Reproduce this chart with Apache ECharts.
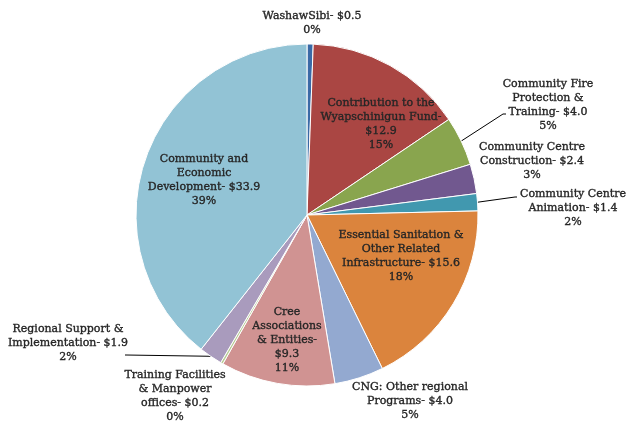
<!DOCTYPE html>
<html>
<head>
<meta charset="utf-8">
<script src="https://cdn.jsdelivr.net/npm/echarts@6/dist/echarts.min.js"></script>
<style>html,body{margin:0;padding:0;background:#fff}#c{width:628px;height:423px}</style>
</head>
<body>
<div id="c"></div>
<script>
// Data (clockwise from 12 o'clock)
const categories = [
  'WashawSibi',
  'Contribution to the\nWyapschinigun Fund',
  'Community Fire\nProtection &\nTraining',
  'Community Centre\nConstruction',
  'Community Centre\nAnimation',
  'Essential Sanitation &\nOther Related\nInfrastructure',
  'CNG: Other regional\nPrograms',
  'Cree\nAssociations\n& Entities',
  'Training Facilities\n& Manpower\noffices',
  'Regional Support &\nImplementation',
  'Community and\nEconomic\nDevelopment'
];
const values = [0.5, 12.9, 4.0, 2.4, 1.4, 15.6, 4.0, 9.3, 0.2, 1.9, 33.9];
const percentLabels = [0, 15, 5, 3, 2, 18, 5, 11, 0, 2, 39];
const separators = ['- ', '-\n', '- ', '- ', '- ', '- ', '- ', '-\n', '- ', '- ', '- '];

// Styles
const colors = ['#3a6aa6', '#aa4643', '#89a54e', '#71588f', '#4198af', '#db843d',
                '#93a9d0', '#d09392', '#b9cd96', '#a99bbd', '#92c3d5'];
const labelPos = [[312, 23], [381, 124], [548, 105], [532, 161], [573, 208], [401, 256],
                  [410, 401], [287, 340], [175, 396], [68, 343], [204, 180]];
const leaderEnds = {2: [[503, 114], [506, 114]], 4: [[515, 197], [517, 197]], 9: [[126, 355], [125, 355]]};

const chart = echarts.init(document.getElementById('c'), null, {renderer: 'canvas'});
chart.setOption({
  animation: false,
  backgroundColor: '#fff',
  series: [{
    type: 'pie',
    center: [307, 215],
    radius: 171,
    startAngle: 90,
    clockwise: true,
    avoidLabelOverlap: false,
    itemStyle: {borderColor: '#fff', borderWidth: 1},
    label: {
      show: true,
      position: 'outside',
      fontFamily: 'DejaVu Serif',
      fontSize: 11,
      lineHeight: 14,
      color: '#262626',
      textBorderColor: '#262626',
      textBorderWidth: 0.35,
      align: 'center',
      formatter: p => p.name + separators[p.dataIndex] + '$' + p.value.toFixed(1) + '\n' + percentLabels[p.dataIndex] + '%'
    },
    labelLine: {show: false, lineStyle: {color: '#000', width: 1}},
    labelLayout: params => {
      const i = params.dataIndex;
      const r = {x: labelPos[i][0], y: labelPos[i][1], align: 'center', verticalAlign: 'middle'};
      if (leaderEnds[i] && params.labelLinePoints) {
        r.labelLinePoints = [params.labelLinePoints[0], leaderEnds[i][0], leaderEnds[i][1]];
      }
      return r;
    },
    data: categories.map((name, i) => ({
      name: name,
      value: values[i],
      itemStyle: {color: colors[i]},
      labelLine: {show: !!leaderEnds[i]}
    }))
  }]
});
</script>
</body>
</html>
